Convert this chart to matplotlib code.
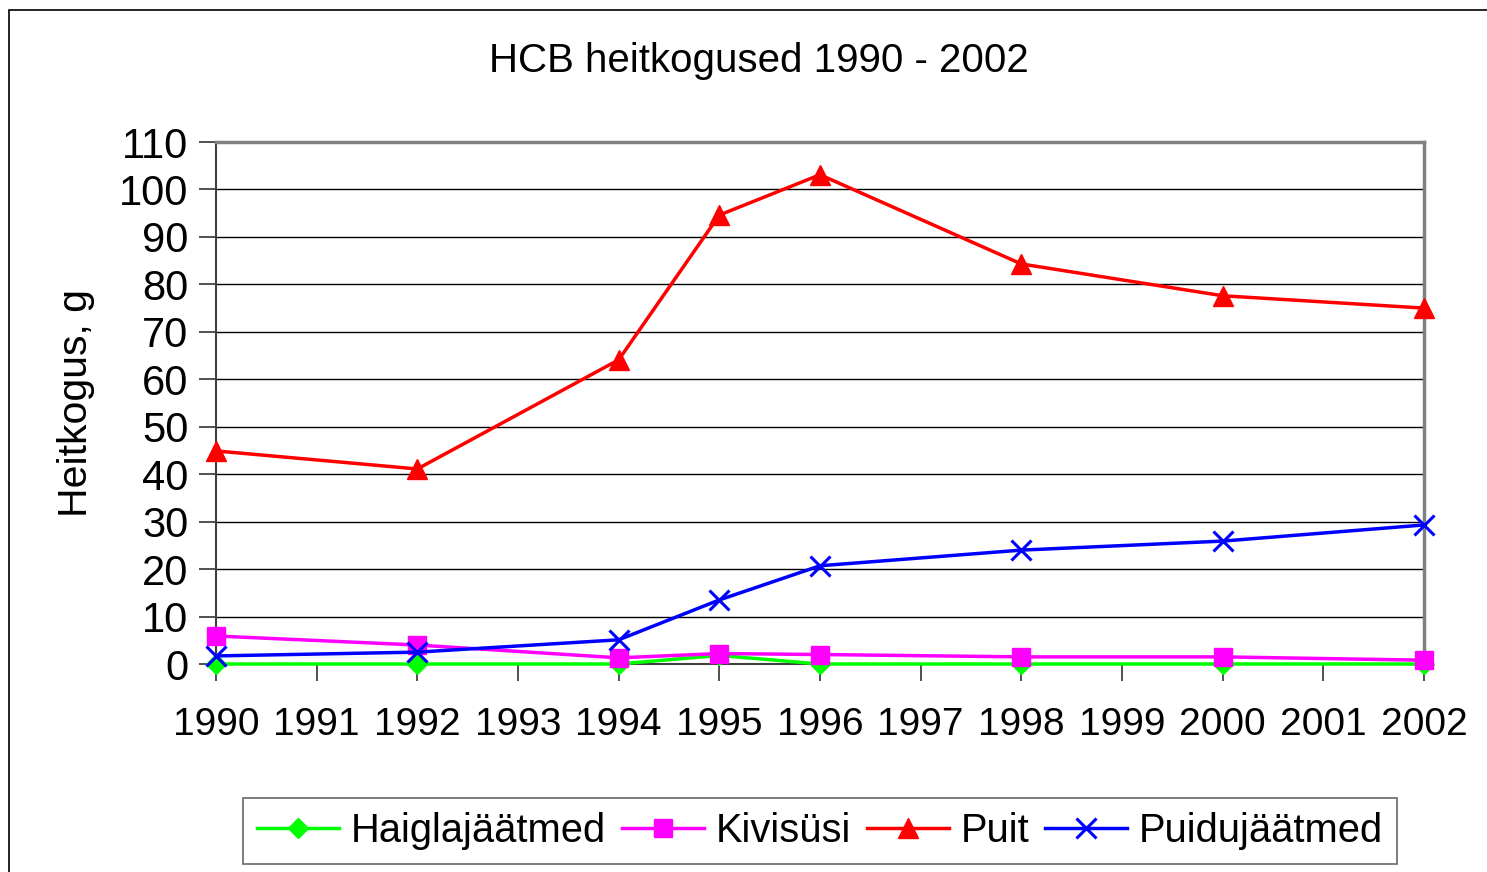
import matplotlib
matplotlib.use("Agg")
import matplotlib.pyplot as plt
from matplotlib.patches import Rectangle

plt.rcParams['font.family'] = ['Liberation Sans', 'DejaVu Sans']

years = [1990, 1992, 1994, 1995, 1996, 1998, 2000, 2002]
haiglajaatmed = [0, 0, 0, 1.8, 0, 0, 0, 0]
kivisusi = [5.9, 4.0, 1.3, 2.2, 2.0, 1.5, 1.5, 0.8]
puit = [44.9, 41.1, 64.1, 94.6, 103.1, 84.3, 77.6, 75.0]
puidujaatmed = [1.7, 2.5, 5.1, 13.5, 20.7, 24.0, 25.9, 29.3]
tick_years = list(range(1990, 2003))
yticks = list(range(0, 111, 10))

fig = plt.figure(figsize=(14.87, 8.72), dpi=100)
fig.patches.append(Rectangle((9/1487, -0.01), 1.1, 1 - 10/872 + 0.01, transform=fig.transFigure,
                             fill=False, edgecolor='black', linewidth=1.2))
ax = fig.add_axes([216/1487, 1 - 664/872, (1424-216)/1487, (664-142)/872])

ax.plot(years, haiglajaatmed, color='#00FF00', lw=2.5, marker='D', ms=10, label='Haiglajäätmed', zorder=3)
ax.plot(years, kivisusi, color='#FF00FF', lw=2.5, marker='s', ms=13, label='Kivisüsi', zorder=3)
ax.plot(years, puit, color='#FF0000', lw=2.5, marker='^', ms=14, label='Puit', zorder=3)
ax.plot(years, puidujaatmed, color='#0000FF', lw=2.5, marker='x', ms=15, mew=2.2, label='Puidujäätmed', zorder=3)

ax.set_xlim(1990, 2002)
ax.set_ylim(0, 110)
ax.set_xticks(tick_years)
ax.set_xticklabels([str(y) for y in tick_years], fontsize=28)
ax.set_yticks(yticks)
ax.set_yticklabels([str(y) for y in yticks], fontsize=30)
ax.tick_params(axis='x', length=12, width=1.2, color='#333333', pad=19, direction='out')
ax.tick_params(axis='y', length=12, width=1.2, color='#333333', pad=8, direction='out')
ax.grid(axis='y', color='black', lw=1.0)
ax.set_axisbelow(True)
for s in ['top', 'right']:
    ax.spines[s].set_color('#808080')
    ax.spines[s].set_linewidth(2.5)
for s in ['left', 'bottom']:
    ax.spines[s].set_color('#404040')
    ax.spines[s].set_linewidth(1.5)
for m in ax.get_lines():
    m.set_clip_on(False)

ax.set_ylabel('Heitkogus, g', fontsize=29.5)
ax.yaxis.set_label_coords(-0.100, 0.5)
fig.text(759/1487, 1 - 61/872, 'HCB heitkogused 1990 - 2002', fontsize=29, ha='center', va='center')

leg = fig.legend(loc='center', bbox_to_anchor=(820/1487, 1 - 831/872), ncol=4, fontsize=28.7,
                 frameon=True, fancybox=False, edgecolor='#404040', handlelength=2.05,
                 handletextpad=0.3, columnspacing=0.4, borderpad=0.35)
leg.get_frame().set_linewidth(1.2)

fig.savefig('out.png', dpi=100)
